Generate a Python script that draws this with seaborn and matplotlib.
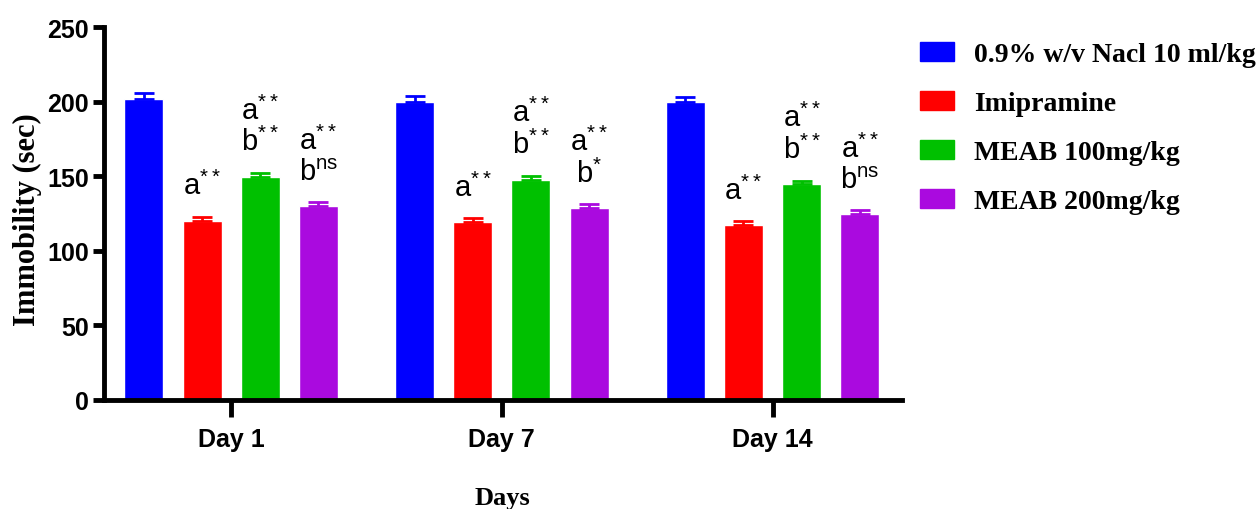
import numpy as np
import pandas as pd
import matplotlib
matplotlib.use("Agg")
import matplotlib.pyplot as plt
import seaborn as sns

# values (mean, SEM)
days = ["Day 1", "Day 7", "Day 14"]
groups = ["0.9% w/v Nacl 10 ml/kg", "Imipramine", "MEAB 100mg/kg", "MEAB 200mg/kg"]
saline = [202, 200, 199.5]
imipramine = [120, 119, 117]
meab_100 = [149.5, 147.5, 144.5]
meab_200 = [130, 128.5, 124.5]
saline_sem = [3.5, 3.5, 3.5]
imipramine_sem = [2.5, 2.5, 2.7]
meab_100_sem = [2.7, 2.8, 2.5]
meab_200_sem = [2.4, 2.5, 2.5]

# significance marks over the bars (saline has none)
imipramine_marks = ["a**", "a**", "a**"]
meab_100_marks = ["a**\nb**", "a**\nb**", "a**\nb**"]
meab_200_marks = ["a**\nbns", "a**\nb*", "a**\nbns"]

colors = ["#0000FF", "#FF0000", "#00C000", "#AA0ADF"]

means = [saline, imipramine, meab_100, meab_200]
sems = [saline_sem, imipramine_sem, meab_100_sem, meab_200_sem]
marks = [None, imipramine_marks, meab_100_marks, meab_200_marks]

rows = []
for g, vals in zip(groups, means):
    for d, v in zip(days, vals):
        rows.append({"Day": d, "Group": g, "Immobility": v})
df = pd.DataFrame(rows)


def to_math(s):
    # "a**" -> a with superscript **, "bns" -> b with superscript ns
    out = []
    for line in s.split("\n"):
        out.append(r"$\mathregular{%s^{%s}}$" % (line[0], line[1:]))
    return "\n".join(out)


sns.set_style("white")
plt.rcParams["font.family"] = ["Liberation Sans", "DejaVu Sans"]
plt.rcParams["mathtext.fontset"] = "custom"
plt.rcParams["mathtext.rm"] = "Liberation Sans"
for k in ["text.color", "axes.labelcolor", "xtick.color", "ytick.color"]:
    plt.rcParams[k] = "black"

fig = plt.figure(figsize=(12.6, 5.1), dpi=100)
ax = fig.add_axes([0.0825, 0.2147, 0.6333, 0.7303])

sns.barplot(data=df, x="Day", y="Immobility", hue="Group", palette=colors,
            width=0.86, gap=0.33, errorbar=None, saturation=1, ax=ax, legend=False)

for container, sem, col, mk in zip(ax.containers, sems, colors, marks):
    xs = [p.get_x() + p.get_width() / 2 for p in container.patches]
    hs = [p.get_height() for p in container.patches]
    ax.errorbar(xs, hs, yerr=[np.zeros(len(sem)), sem], fmt="none", ecolor=col,
                elinewidth=2, capsize=7, capthick=2, zorder=1)
    if mk is None:
        continue
    for x, h, e, m in zip(xs, hs, sem, mk):
        ax.annotate(to_math(m), (x, h + e), xytext=(0, 12), textcoords="offset points",
                    ha="center", va="bottom", fontsize=21, linespacing=1.1)

ax.set_ylim(0, 250)
ax.set_xlim(-0.47, 2.478)
ax.set_yticks([0, 50, 100, 150, 200, 250])
sns.despine(ax=ax)
for s in ["left", "bottom"]:
    ax.spines[s].set_linewidth(3.5)
    ax.spines[s].set_color("black")
ax.tick_params(axis="both", which="major", direction="out", width=3.5,
               color="black", labelcolor="black", labelsize=18, bottom=True, left=True)
ax.tick_params(axis="x", length=12, pad=8)
ax.tick_params(axis="y", length=8, pad=3)
for lbl in ax.get_xticklabels() + ax.get_yticklabels():
    lbl.set_fontweight("bold")

ax.set_xlabel("Days", fontsize=19, fontweight="bold", family="Liberation Serif")
ax.set_ylabel("Immobility (sec)", fontsize=22, fontweight="bold", family="Liberation Serif")
ax.xaxis.set_label_coords(0.5, -0.232)
ax.yaxis.set_label_coords(-0.078, 0.485)

handles = [plt.Rectangle((0, 0), 1, 1, color=c) for c in colors]
fig.legend(handles, groups, loc="upper left", bbox_to_anchor=(0.71, 0.965), frameon=False,
           prop={"family": "Liberation Serif", "weight": "bold", "size": 20},
           handlelength=1.25, handleheight=0.7, handletextpad=0.7, labelspacing=0.85)

fig.savefig("out.png", dpi=100)
